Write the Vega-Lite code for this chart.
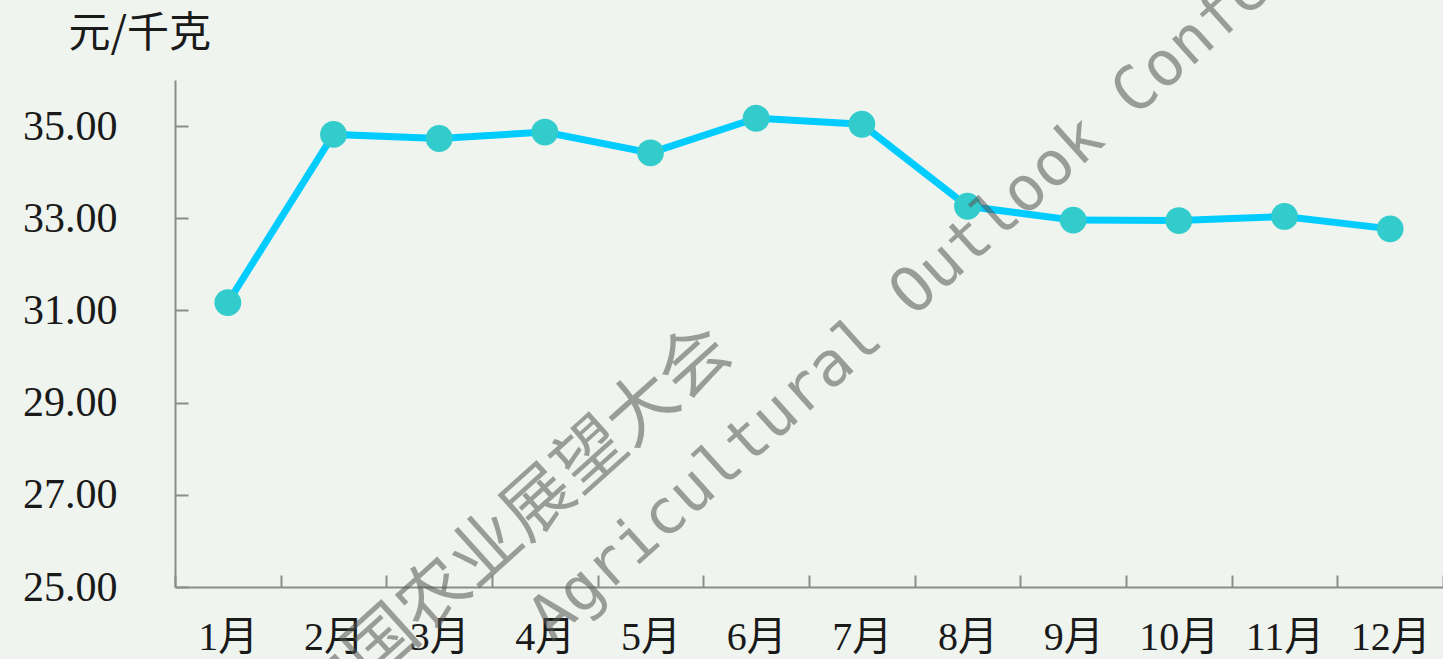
{
  "$schema": "https://vega.github.io/schema/vega-lite/v6.json",
  "width": 1268,
  "height": 507,
  "autosize": {"type": "none"},
  "padding": {"left": 175, "top": 80, "right": 0, "bottom": 72},
  "background": "#eff4ef",
  "config": {"view": {"stroke": null}},
  "data": {
    "values": [
      {"month": "1月", "price": 31.17},
      {"month": "2月", "price": 34.82},
      {"month": "3月", "price": 34.73},
      {"month": "4月", "price": 34.87},
      {"month": "5月", "price": 34.42},
      {"month": "6月", "price": 35.17},
      {"month": "7月", "price": 35.04},
      {"month": "8月", "price": 33.26},
      {"month": "9月", "price": 32.96},
      {"month": "10月", "price": 32.95},
      {"month": "11月", "price": 33.04},
      {"month": "12月", "price": 32.77}
    ]
  },
  "layer": [
    {
      "mark": {"type": "line", "color": "#00ccff", "strokeWidth": 7},
      "encoding": {
        "x": {
          "field": "month",
          "type": "ordinal",
          "sort": null,
          "scale": {
            "type": "band",
            "domain": ["1月", "2月", "3月", "4月", "5月", "6月", "7月", "8月", "9月", "10月", "11月", "12月"],
            "paddingInner": 0,
            "paddingOuter": 0
          },
          "axis": {
            "title": null,
            "labelAngle": 0,
            "tickBand": "extent",
            "grid": false,
            "domainColor": "#8c8c8c",
            "domainWidth": 2,
            "tickColor": "#8c8c8c",
            "tickWidth": 2,
            "tickSize": -12,
            "labelPadding": 42,
            "labelFont": "Liberation Serif, Noto Sans CJK SC",
            "labelFontSize": 40,
            "labelColor": "#1a1a1a"
          }
        },
        "y": {
          "field": "price",
          "type": "quantitative",
          "scale": {"domain": [25, 36], "nice": false, "zero": false},
          "axis": {
            "values": [25, 27, 29, 31, 33, 35],
            "format": ".2f",
            "grid": false,
            "domainColor": "#8c8c8c",
            "domainWidth": 2,
            "tickColor": "#8c8c8c",
            "tickWidth": 2,
            "tickSize": -13,
            "labelPadding": 71,
            "labelFont": "Liberation Serif",
            "labelFontSize": 42,
            "labelColor": "#1a1a1a",
            "labelBaseline": "middle",
            "title": "元/千克",
            "titleAngle": 0,
            "titleAlign": "left",
            "titleBaseline": "alphabetic",
            "titleX": -107,
            "titleY": -34,
            "titleFont": "Noto Sans CJK SC",
            "titleFontSize": 42,
            "titleFontWeight": "normal",
            "titleColor": "#1a1a1a"
          }
        }
      }
    },
    {
      "mark": {"type": "point", "filled": true, "color": "#33cccc", "size": 720, "opacity": 1},
      "encoding": {
        "x": {"field": "month", "type": "ordinal", "sort": null},
        "y": {"field": "price", "type": "quantitative"}
      }
    },
    {
      "data": {"values": [{"label": "中国农业展望大会"}]},
      "mark": {"type": "text", "font": "Noto Sans CJK SC", "fontSize": 70, "angle": -42, "align": "center", "baseline": "middle", "color": "#555555", "opacity": 0.55},
      "encoding": {
        "text": {"field": "label"},
        "x": {"datum": "4月", "bandPosition": 0.2},
        "y": {"datum": 26.3, "type": "quantitative"}
      }
    },
    {
      "data": {"values": [{"label": "Agricultural Outlook Conference"}]},
      "mark": {"type": "text", "font": "DejaVu Sans Mono", "fontSize": 62, "angle": -42, "align": "left", "baseline": "middle", "color": "#555555", "opacity": 0.55},
      "encoding": {
        "text": {"field": "label"},
        "x": {"datum": "4月", "bandPosition": 0.45},
        "y": {"datum": 24.1, "type": "quantitative"}
      }
    }
  ]
}
